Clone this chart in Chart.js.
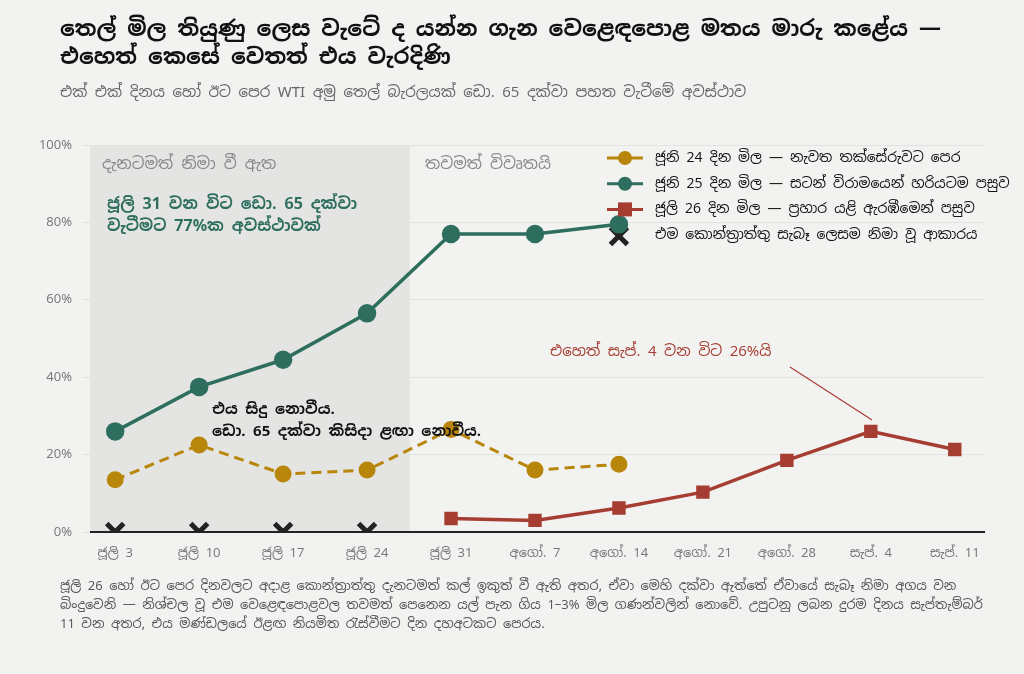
<!DOCTYPE html>
<html><head><meta charset="utf-8">
<script src="https://cdn.jsdelivr.net/npm/chart.js@4"></script>
<style>
body{margin:0;background:#f2f2f0;font-family:'Noto Sans Sinhala','Noto Sans',sans-serif;}
#wrap{position:relative;width:1024px;height:674px;overflow:hidden}
canvas{position:absolute;left:0;top:0}
.t{position:absolute;left:60px;color:#111}
#title{top:14px;font-size:22px;font-weight:bold;line-height:28px;width:920px}
#sub{top:82px;font-size:15px;color:#666}
#foot{top:576px;font-size:13px;color:#555;line-height:19px;width:930px}
</style></head><body>
<div id="wrap">
<canvas id="c" width="1024" height="674"></canvas>
<div class="t" id="title">තෙල් මිල තියුණු ලෙස වැටේ ද යන්න ගැන වෙළෙඳපොළ මතය මාරු කළේය —<br>එහෙත් කෙසේ වෙතත් එය වැරදිණි</div>
<div class="t" id="sub">එක් එක් දිනය හෝ ඊට පෙර WTI අමු තෙල් බැරලයක් ඩො. 65 දක්වා පහත වැටීමේ අවස්ථාව</div>
<div class="t" id="foot">ජූලි 26 හෝ ඊට පෙර දිනවලට අදාළ කොන්ත්‍රාත්තු දැනටමත් කල් ඉකුත් වී ඇති අතර, ඒවා මෙහි දක්වා ඇත්තේ ඒවායේ සැබෑ නිමා අගය වන බිංදුවෙනි — නිශ්චල වූ එම වෙළෙඳපොළවල තවමත් පෙනෙන යල් පැන ගිය 1–3% මිල ගණන්වලින් නොවේ. උපුටනු ලබන දුරම දිනය සැප්තැම්බර් 11 වන අතර, එය මණ්ඩලයේ ඊළඟ නියමිත රැස්වීමට දින දහඅටකට පෙරය.</div>
</div>
<script>
const categories=['ජූලි 3','ජූලි 10','ජූලි 17','ජූලි 24','ජූලි 31','අගෝ. 7','අගෝ. 14','අගෝ. 21','අගෝ. 28','සැප්. 4','සැප්. 11'];
const jun24=[13.5,22.5,15,16,26.5,16,17.5,null,null,null,null];
const jun25=[26,37.5,44.5,56.5,77,77,79.5,null,null,null,null];
const jul26=[null,null,null,null,3.5,3,6.2,10.3,18.5,26,21.3];
const settled=[0,0,0,0,null,null,76.5,null,null,null,null];
const yTicks=[0,20,40,60,80,100];
const F="'Noto Sans Sinhala','Noto Sans',sans-serif";
const pts=a=>a.map((v,i)=>v==null?null:{x:i,y:v}).filter(p=>p);
const GOLD='#b8860b',GREEN='#2e6e5e',RED='#a63d32';
const deco={id:'deco',
 beforeDatasetsDraw(ch){const {ctx,scales:{x,y},chartArea:a}=ch;ctx.save();
  ctx.fillStyle='#e4e4e2';ctx.fillRect(a.left,a.top,x.getPixelForValue(3.51)-a.left,y.getPixelForValue(0)-a.top);
  ctx.strokeStyle='#222';ctx.lineWidth=2;ctx.beginPath();ctx.moveTo(a.left,y.getPixelForValue(0));ctx.lineTo(a.right,y.getPixelForValue(0));ctx.stroke();
  ctx.restore();},
 afterDatasetsDraw(ch){const {ctx,scales:{x,y}}=ch;ctx.save();ctx.textBaseline='middle';
  ctx.font='16px '+F;ctx.fillStyle='#888';ctx.fillText('දැනටමත් නිමා වී ඇත',102,165);ctx.fillText('තවමත් විවෘතයි',425,165);
  ctx.font='bold 16px '+F;ctx.fillStyle=GREEN;ctx.fillText('ජූලි 31 වන විට ඩො. 65 දක්වා',107,205);ctx.fillText('වැටීමට 77%ක අවස්ථාවක්',107,227);
  ctx.font='bold 15px '+F;ctx.fillStyle='#111';ctx.fillText('එය සිදු නොවීය.',212,410);ctx.fillText('ඩො. 65 දක්වා කිසිදා ළඟා නොවීය.',212,432);
  ctx.font='15px '+F;ctx.fillStyle=RED;ctx.fillText('එහෙත් සැප්. 4 වන විට 26%යි',550,352);
  ctx.strokeStyle=RED;ctx.lineWidth=1.2;ctx.beginPath();ctx.moveTo(790,367);ctx.lineTo(872,420);ctx.stroke();
  const L=[['ජූනි 24 දින මිල — නැවත තක්සේරුවට පෙර',GOLD,'c'],['ජූනි 25 දින මිල — සටන් විරාමයෙන් හරියටම පසුව',GREEN,'c'],['ජූලි 26 දින මිල — ප්‍රහාර යළි ඇරඹීමෙන් පසුව',RED,'r'],['එම කොන්ත්‍රාත්තු සැබෑ ලෙසම නිමා වූ ආකාරය','#222','x']];
  L.forEach((l,i)=>{const yy=158+i*25.7;ctx.strokeStyle=l[1];ctx.fillStyle=l[1];ctx.lineWidth=3;
   if(l[2]!='x'){ctx.beginPath();ctx.moveTo(607,yy);ctx.lineTo(643,yy);ctx.stroke();}
   if(l[2]=='c'){ctx.beginPath();ctx.arc(625,yy,7,0,7);ctx.fill();}
   else if(l[2]=='r'){ctx.fillRect(618,yy-7,14,14);}
   ctx.font='14px '+F;ctx.fillStyle='#111';ctx.fillText(l[0],655,yy);});
  ctx.restore();}};
new Chart(document.getElementById('c'),{type:'line',
 data:{datasets:[
  {data:pts(jun24),borderColor:GOLD,backgroundColor:GOLD,borderWidth:3,borderDash:[10,6],pointRadius:7,pointHoverRadius:7},
  {data:pts(jun25),borderColor:GREEN,backgroundColor:GREEN,borderWidth:3.5,pointRadius:7.5},
  {data:pts(jul26),borderColor:RED,backgroundColor:RED,borderWidth:3.5,pointStyle:'rect',pointRadius:7},
  {data:pts(settled),showLine:false,pointStyle:'crossRot',pointRadius:12,borderWidth:5,borderColor:'#222'}]},
 options:{responsive:false,animation:false,layout:{padding:{top:145,right:39,left:0,bottom:0}},
  plugins:{legend:{display:false},tooltip:{enabled:false}},
  scales:{x:{type:'linear',min:-0.3,max:10.36,afterFit:s=>{s.height=142},
    afterBuildTicks:s=>{s.ticks=categories.map((c,i)=>({value:i}))},
    grid:{display:false},border:{display:false},
    ticks:{callback:v=>categories[v],color:'#777',font:{family:F,size:13},padding:6}},
   y:{min:0,max:100,afterFit:s=>{s.width=90},afterBuildTicks:s=>{s.ticks=yTicks.map(v=>({value:v}))},
    grid:{color:'#e2e2e0',lineWidth:1},border:{display:false},
    ticks:{callback:v=>v+'%',color:'#777',font:{family:F,size:13},padding:10}}}},
 plugins:[deco]});
</script></body></html>
